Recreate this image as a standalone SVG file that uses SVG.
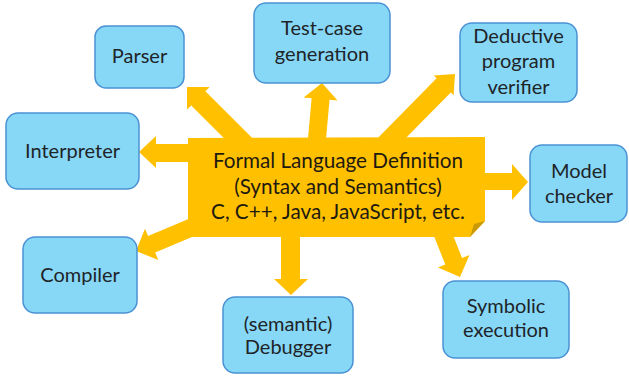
<svg xmlns="http://www.w3.org/2000/svg" width="629" height="379" viewBox="0 0 629 379">
<style>
.box{fill:#87D8F7;stroke:#4A92D4;stroke-width:1.5}
.arr{fill:#FFC000}
.t{font-family:Lato,"Open Sans",sans-serif;font-size:20px;fill:#1E2428;text-anchor:middle}
.c{font-family:Lato,"Open Sans",sans-serif;font-size:20.7px;fill:#1E1A10;text-anchor:middle}
</style>
<rect width="629" height="379" fill="#FFFFFF"/>
<g id="connectors">
<polygon class="arr" points="257.1,142.9 205.4,91.2 209.6,87 187,87 187,109.6 191.2,105.4 242.9,157.1"/>
<polygon class="arr" points="324.96,150.8 329.53,99.74 337.5,100.46 322,83 303.64,97.42 311.61,98.14 307.04,149.2"/>
<polygon class="arr" points="390.1,154.1 450.8,92.4 453.6,95.2 455,74 433.8,75.4 436.6,78.2 375.9,139.9"/>
<polygon class="arr" points="200,144 156,144 156,136 139,152 156,168 156,162 200,162"/>
<polygon class="arr" points="191.47,217.72 148.11,236.06 144.98,228.7 136,251 158.3,259.98 155.17,252.62 198.53,234.28"/>
<polygon class="arr" points="281,230 300,230 300,279 308,279 291,295 274,279 281,279"/>
<polygon class="arr" points="431.95,231.04 445.34,264.56 437.91,267.53 460,277 469.47,254.91 462.04,257.88 448.65,224.36"/>
<polygon class="arr" points="480,173 512,173 512,164 528,182 512,200 512,190 480,190"/>
</g>
<g id="center">
<path d="M188,138 L485,137 L485,221 L470,237 L188,237 Z" fill="#FFC000"/>
<polygon points="470,237 485,221 474,224" fill="#C99A06"/>
<text class="c" x="338" y="168">Formal Language Definition</text>
<text class="c" x="338" y="194">(Syntax and Semantics)</text>
<text class="c" x="338" y="219">C, C++, Java, JavaScript, etc.</text>
</g>
<g id="parser">
<rect class="box" x="95" y="26" width="89" height="62" rx="11"/>
<text class="t" x="139.5" y="63">Parser</text>
</g>
<g id="testcase">
<rect class="box" x="254" y="3" width="136" height="80" rx="12"/>
<text class="t" x="322" y="35">Test-case</text>
<text class="t" x="322" y="61">generation</text>
</g>
<g id="deductive">
<rect class="box" x="460" y="23" width="117" height="79" rx="12"/>
<text class="t" x="518.5" y="43">Deductive</text>
<text class="t" x="518.5" y="68">program</text>
<text class="t" x="518.5" y="94">verifier</text>
</g>
<g id="interpreter">
<rect class="box" x="6" y="113" width="133" height="76" rx="12"/>
<text class="t" x="72.5" y="158">Interpreter</text>
</g>
<g id="compiler">
<rect class="box" x="23" y="237" width="114" height="76" rx="12"/>
<text class="t" x="80" y="282">Compiler</text>
</g>
<g id="modelchecker">
<rect class="box" x="530" y="145" width="97" height="77" rx="12"/>
<text class="t" x="579" y="178">Model</text>
<text class="t" x="579" y="203">checker</text>
</g>
<g id="symbolic">
<rect class="box" x="443" y="281" width="126" height="77" rx="12"/>
<text class="t" x="506" y="313">Symbolic</text>
<text class="t" x="506" y="337">execution</text>
</g>
<g id="debugger">
<rect class="box" x="223" y="297" width="130" height="76" rx="12"/>
<text class="t" x="288" y="331">(semantic)</text>
<text class="t" x="288" y="354">Debugger</text>
</g>
</svg>
